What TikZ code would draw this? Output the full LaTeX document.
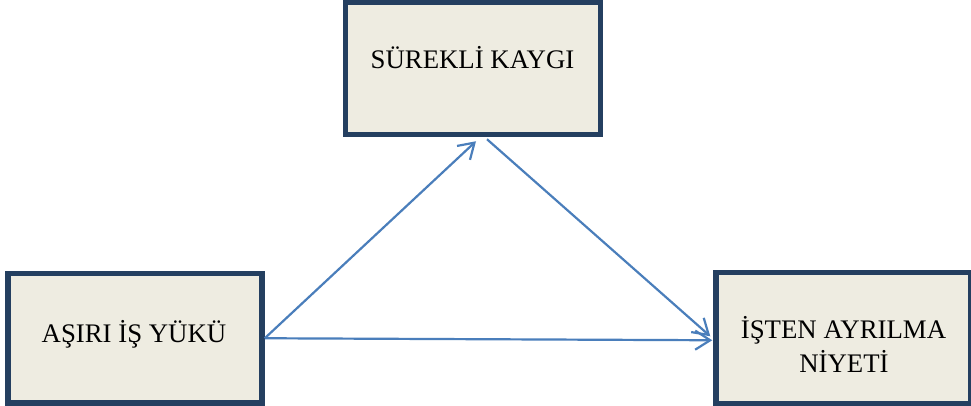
\documentclass[tikz,border=0pt]{standalone}
\usepackage{fontspec}
\setmainfont{Liberation Serif}
\usetikzlibrary{arrows.meta,calc}
\definecolor{boxborder}{HTML}{243F60}
\definecolor{boxfill}{HTML}{EEECE1}
\definecolor{arrowblue}{HTML}{4A7EBB}
\tikzset{
  box/.style={draw=boxborder, fill=boxfill, line width=5.5pt, inner sep=0pt, rectangle},
  lbl/.style={anchor=base, inner sep=0pt, font=\fontsize{26.8}{34}\selectfont, text=black},
  arr/.style={draw=arrowblue, line width=2.2pt, -{Straight Barb[length=15pt,width=19pt,line width=2.2pt]}}
}
\begin{document}
\begin{tikzpicture}[x=1pt,y=-1pt]
\useasboundingbox (0,0) rectangle (971,406);
\node[box, minimum width=255pt, minimum height=132pt] (s) at (473,68.5) {};
\node[box, minimum width=254pt, minimum height=129.5pt] (a) at (135,338.25) {};
\node[box, minimum width=254.5pt, minimum height=131.5pt] (n) at (843.25,338.25) {};
\node[lbl] (st) at (472.5,69) {SÜREKLİ KAYGI};
\node[lbl] (at) at (134,342) {AŞIRI İŞ YÜKÜ};
\node[lbl] (nt1) at (843.5,338) {İŞTEN AYRILMA};
\node[lbl] (nt2) at (844,372) {NİYETİ};
\coordinate (t1) at ($(s.south)+(3,4)$);
\coordinate (s1) at ($(s.south)+(14,2)$);
\coordinate (t2) at ($(n.west)+(-3,-2)$);
\coordinate (t3) at ($(n.west)+(-1,2)$);
\coordinate (a1) at ($(a.east)+(0,0)$);
\draw[arr] (a1) -- (t1);
\draw[arr] (s1) -- (t2);
\draw[arr] (a1) -- (t3);
\end{tikzpicture}
\end{document}
